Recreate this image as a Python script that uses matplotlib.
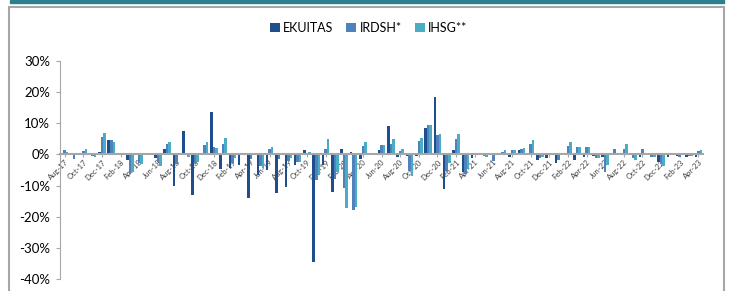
import pandas as pd
import matplotlib
matplotlib.use('Agg')
import matplotlib.pyplot as plt
import numpy as np
from matplotlib.patches import Rectangle

# monthly returns (%) Aug-17 .. Apr-23
months = pd.date_range('2017-08-01', '2023-04-01', freq='MS').strftime('%b-%y').tolist()

ekuitas = [0.1, 0.0, 0.1, -0.3, 0.7, 4.5, 0.0, -1.9, 0.3, 0.6,
           -1.1, 1.8, -10.2, 7.4, -13.0, 0.3, 13.5, -4.8, -4.3, -3.5,
           -14.1, -6.6, -5.0, -12.4, -10.4, -3.5, 1.3, -34.7, -3.5, -12.1,
           1.8, 0.9, -1.4, 0.0, 1.4, 9.2, -0.8, -0.5, -0.5, 8.5,
           18.3, -11.2, 1.5, -5.7, -1.0, 0.4, -0.2, 0.0, -0.9, 1.3,
           -0.2, -1.9, -1.1, -2.7, 0.2, -1.7, -0.9, -0.5, -0.8, 0.0,
           0.3, 0.0, -0.9, -0.1, -2.5, -0.9, -0.5, -0.7, -0.8]
irdsh = [1.3, -1.4, 1.1, -0.6, 5.5, 4.6, 0.0, -6.3, -2.6, 0.3,
         -2.5, 3.4, -3.0, -0.3, -2.6, 2.9, 2.5, 3.4, -2.7, 0.3,
         -1.5, -3.6, 1.9, -1.5, -2.0, -2.5, -0.2, -8.3, 1.7, -7.8,
         -10.9, -17.7, 2.6, 0.6, 2.9, 3.4, 1.2, -5.2, 4.2, 9.6,
         6.3, -5.3, 4.8, -6.2, -0.2, -0.5, -2.0, 0.7, 1.3, 1.8,
         3.4, -1.1, -0.1, -1.9, 2.7, 2.4, 2.3, -1.0, -5.7, 1.8,
         1.8, -1.1, 1.7, -0.9, -3.2, 0.0, -0.8, -0.4, 1.1]
ihsg = [0.9, 0.5, 1.6, -0.9, 6.8, 3.9, 0.2, -5.6, -3.2, -0.2,
        -3.6, 4.0, -0.3, -0.7, -2.4, 3.9, 2.2, 5.4, -1.2, 0.2,
        -0.3, -4.3, 2.4, 0.3, -1.0, -2.5, 0.8, -6.5, 4.8, -5.5,
        -17.3, -17.0, 3.9, 0.6, 3.0, 5.0, 1.6, -7.0, 5.4, 9.5,
        6.5, -2.7, 6.4, -4.8, 0.1, -0.7, 0.6, 1.3, 1.3, 2.2,
        4.7, -0.9, 0.5, 0.5, 3.9, 2.4, 2.3, -1.3, -3.3, 0.5,
        3.2, -1.7, 0.6, -0.9, -3.6, 0.1, -0.2, -0.4, 1.5]

series = [('EKUITAS', ekuitas, '#1f4e8c'),
          ('IRDSH*', irdsh, '#4f81bd'),
          ('IHSG**', ihsg, '#4bacc6')]

plt.rcParams['font.family'] = ['Lato', 'DejaVu Sans']

fig = plt.figure(figsize=(7.31, 2.91), dpi=100)

# frame and top band
fig.patches.append(Rectangle((10 / 731, 288 / 291), 714 / 731, 3 / 291,
                             transform=fig.transFigure, color='#2b7f8e', zorder=0))
fig.patches.append(Rectangle((8.5 / 731, -0.05), 715 / 731, 284 / 291 + 0.05,
                             transform=fig.transFigure, fill=False,
                             edgecolor='#a6a6a6', lw=1.5, zorder=0))

ax = fig.add_axes([60 / 731, 12 / 291, 643 / 731, 218 / 291])

x = np.arange(len(months))
w = 0.27
for k, (name, vals, col) in enumerate(series):
    ax.bar(x + (k - 1) * w, np.array(vals) / 100, width=w, color=col, label=name, zorder=2)

ax.set_xlim(-0.5, len(months) - 0.5)
ax.set_ylim(-0.40, 0.30)
ax.set_yticks(np.arange(-0.4, 0.31, 0.1))
ax.set_yticklabels([f'{v}%' for v in range(-40, 31, 10)], fontsize=9.5)

for s in ['top', 'right']:
    ax.spines[s].set_visible(False)
ax.spines['left'].set_color('#a6a6a6')
ax.spines['bottom'].set_position(('data', 0))
ax.spines['bottom'].set_color('#a6a6a6')
ax.spines['bottom'].set_linewidth(1.5)
ax.spines['bottom'].set_zorder(3)
ax.tick_params(axis='y', length=3, color='#a6a6a6', pad=4)
ax.tick_params(axis='x', length=2, color='#a6a6a6', pad=1)

ax.set_xticks(x[::2])
ax.set_xticklabels(months[::2], fontsize=5.5, rotation=45, ha='right',
                   rotation_mode='anchor', color='#404040')

ax.legend(loc='center', bbox_to_anchor=(0.48, 1.152), ncol=3, frameon=False,
          fontsize=9, handlelength=0.8, handleheight=0.8, handletextpad=0.3,
          columnspacing=1.0)

plt.savefig('out.png', dpi=100)
